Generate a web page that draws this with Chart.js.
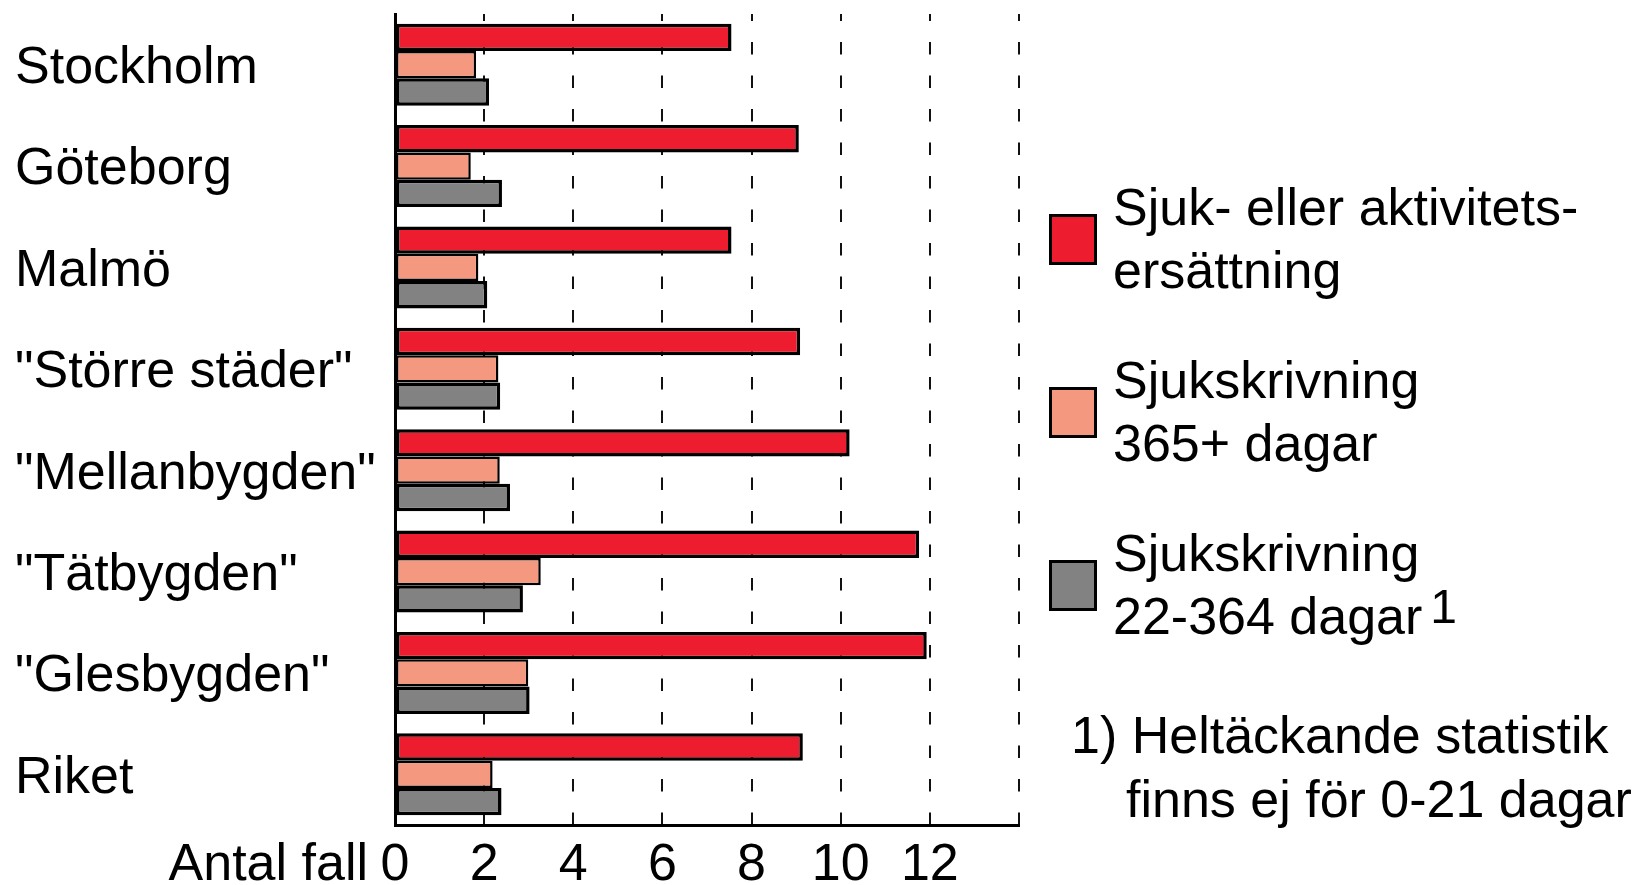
<!DOCTYPE html>
<html lang="sv">
<head>
<meta charset="utf-8">
<script src="https://cdn.jsdelivr.net/npm/chart.js@4"></script>
<style>
  body { margin: 0; background: #fff; }
  #wrap { position: relative; width: 1650px; height: 885px; font-family: "Liberation Sans", Arial, sans-serif; color: #000; }
  #legend { position: absolute; left: 1049px; top: 176px; }
  .item { display: flex; align-items: center; height: 126px; margin-bottom: 47px; }
  .box { width: 42px; height: 45px; border: 3px solid #000; margin-right: 16px; flex: none; }
  .txt { font-size: 52px; line-height: 63px; white-space: nowrap; }
  .txt sup { font-size: 48px; vertical-align: 0; position: relative; top: -11px; margin-left: 8px; }
  .note { position: absolute; font-size: 52px; line-height: 63px; white-space: nowrap; }
</style>
</head>
<body>
<div id="wrap">
  <canvas id="grafik"></canvas>
  <div id="legend"></div>
  <div class="note" style="left:1071px; top:704px;">1) Heltäckande statistik</div>
  <div class="note" style="left:1126px; top:768px;">finns ej för 0-21 dagar</div>
</div>
<script>
// Data
const kategorier = ['Stockholm', 'Göteborg', 'Malmö', '"Större städer"', '"Mellanbygden"', '"Tätbygden"', '"Glesbygden"', 'Riket'];
const sjukAktivitet = [7.55, 9.06, 7.55, 9.09, 10.2, 11.76, 11.93, 9.15];
const sjukskrivning365 = [1.82, 1.70, 1.87, 2.32, 2.35, 3.27, 2.99, 2.19];
const sjukskrivning22 = [2.11, 2.40, 2.07, 2.36, 2.58, 2.87, 3.02, 2.39];
const xTicks = [0, 2, 4, 6, 8, 10, 12];
const xMax = 14;

const serier = [
    { rader: ['Sjuk- eller aktivitets-', 'ersättning'], data: sjukAktivitet, farg: '#ED1C2E', kant: 3.5 },
    { rader: ['Sjukskrivning', '365+ dagar'], data: sjukskrivning365, farg: '#F4987F', kant: 2.5 },
    { rader: ['Sjukskrivning', '22-364 dagar'], data: sjukskrivning22, farg: '#828282', kant: 3.5, fotnot: '1' }
];

const font = { family: '"Liberation Sans", Arial, sans-serif', size: 52 };

// "Antal fall" bredvid 0 på x-axeln
const antalFall = {
    id: 'antalFall',
    afterDraw(chart) {
        const x = chart.scales.x;
        const c = chart.ctx;
        c.save();
        c.font = '52px "Liberation Sans", Arial, sans-serif';
        c.fillStyle = '#000';
        c.textAlign = 'right';
        c.textBaseline = 'middle';
        c.fillText('Antal fall', x.getPixelForValue(0) - 27, x.top + 41);
        c.restore();
    }
};

const ctx = document.getElementById('grafik');

const chart = new Chart(ctx, {
    type: 'bar',
    data: {
        labels: kategorier,
        datasets: serier.map(s => ({
            label: s.rader.join(' '),
            data: s.data,
            backgroundColor: s.farg,
            borderColor: '#000',
            borderWidth: s.kant,
            borderSkipped: false,
            barPercentage: 1,
            categoryPercentage: 0.81
        }))
    },
    options: {
        indexAxis: 'y',
        responsive: true,
        maintainAspectRatio: false,
        animation: false,
        layout: { padding: { top: 14, left: 15, right: 631, bottom: 0 } },
        scales: {
            x: {
                min: 0,
                max: xMax,
                afterFit: (scale) => { scale.height = 60; },
                ticks: {
                    stepSize: 2,
                    color: '#000',
                    font: font,
                    padding: 9,
                    maxRotation: 0,
                    autoSkip: false,
                    callback: (v) => xTicks.includes(v) ? v : ''
                },
                grid: { color: '#111', lineWidth: 2, drawTicks: false },
                border: { display: true, color: '#000', width: 3, dash: [12.5, 21], dashOffset: 5.5 }
            },
            y: {
                afterFit: (scale) => {
                    scale.width = 380;
                    scale.paddingTop = 0;
                    scale.paddingBottom = 0;
                },
                ticks: { color: '#000', font: font, crossAlign: 'far', padding: 0, labelOffset: 4 },
                grid: { display: false, drawTicks: false },
                border: { display: true, color: '#000', width: 3 }
            }
        },
        plugins: {
            legend: { display: false },
            tooltip: { enabled: false }
        }
    },
    plugins: [antalFall]
});

// Legend
const legend = document.getElementById('legend');
serier.forEach(s => {
    const item = document.createElement('div');
    item.className = 'item';
    const box = document.createElement('div');
    box.className = 'box';
    box.style.background = s.farg;
    const txt = document.createElement('div');
    txt.className = 'txt';
    txt.innerHTML = s.rader[0] + '<br>' + s.rader[1] + (s.fotnot ? '<sup>' + s.fotnot + '</sup>' : '');
    item.appendChild(box);
    item.appendChild(txt);
    legend.appendChild(item);
});
</script>
</body>
</html>
